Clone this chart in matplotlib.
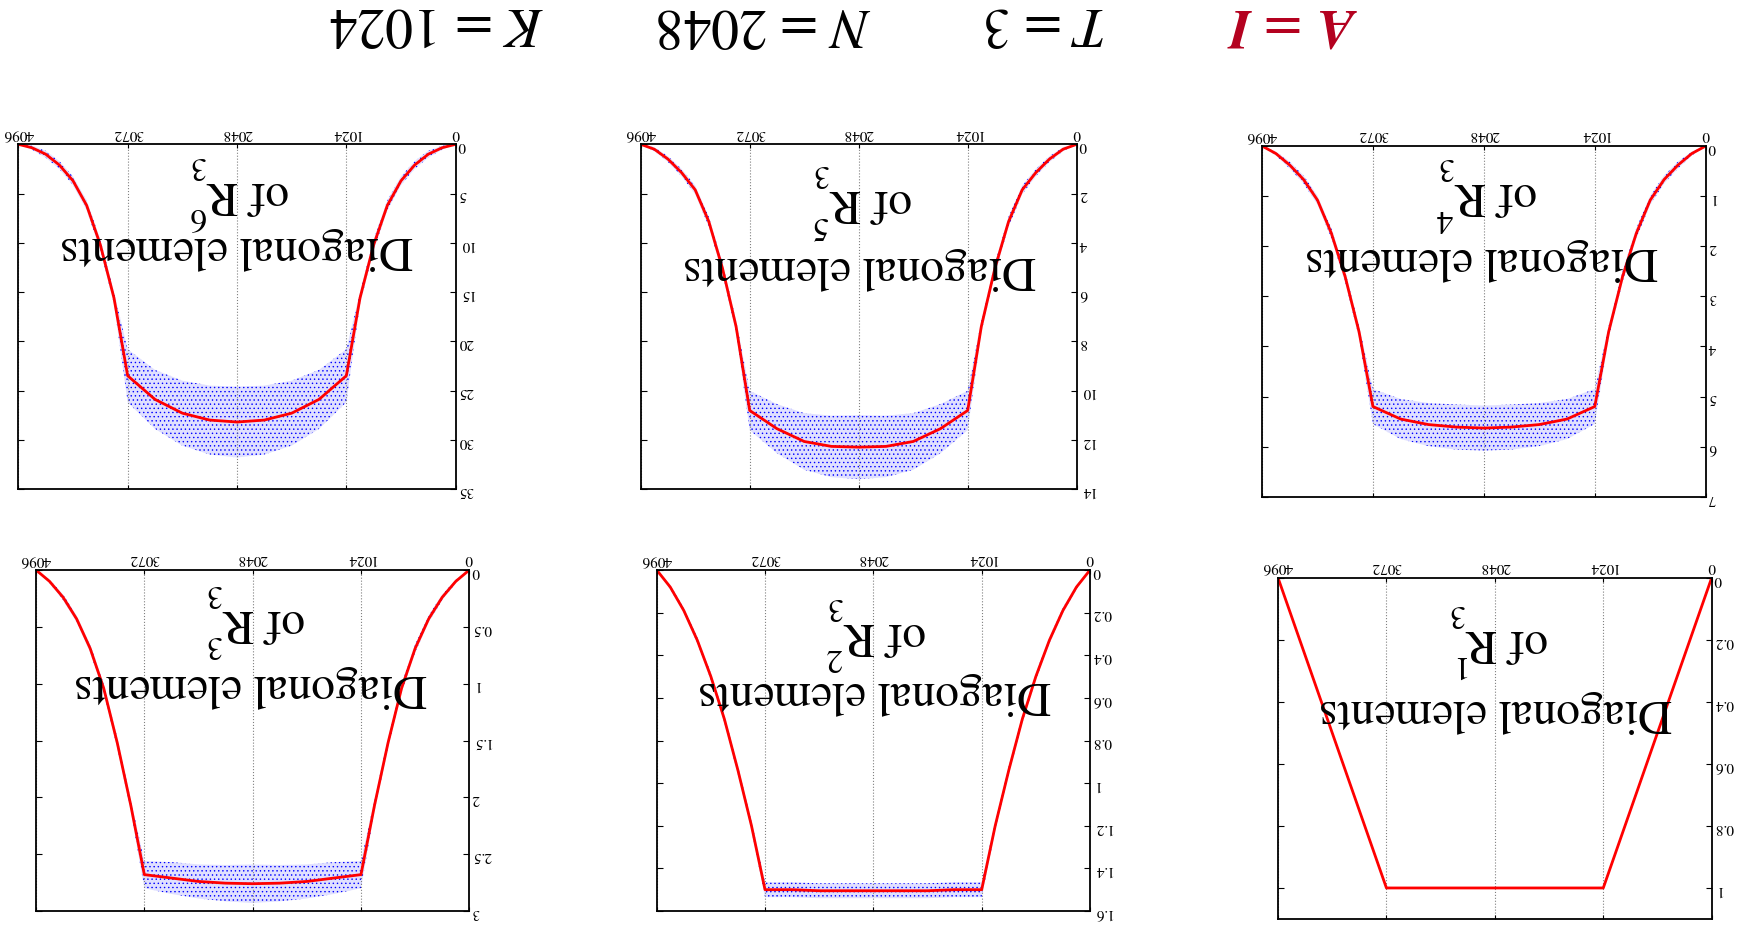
import numpy as np
import matplotlib
matplotlib.use("Agg")
import matplotlib.pyplot as plt
from matplotlib.ticker import FuncFormatter
from matplotlib.transforms import offset_copy

plt.rcParams['font.family'] = 'STIXGeneral'
plt.rcParams['mathtext.fontset'] = 'stix'
plt.rcParams['hatch.linewidth'] = 0.5

# column index along the diagonal
idx = [0, 128, 256, 384, 512, 640, 768, 896, 1024, 1280, 1536, 1792, 2048,
       2304, 2560, 2816, 3072, 3200, 3328, 3456, 3584, 3712, 3840, 3968, 4096]

# mean diagonal of R^k (red) and half-width of the sampled cloud (blue)
diag_r1 = [0, .125, .25, .375, .5, .625, .75, .875, 1, 1, 1, 1, 1,
           1, 1, 1, 1, .875, .75, .625, .5, .375, .25, .125, 0]
spread_r1 = [0, .005, .006, .006, .006, .006, .006, .006, .004, 0, 0, 0, 0,
             0, 0, 0, .004, .006, .006, .006, .006, .006, .006, .005, 0]

diag_r2 = [0, .08, .19, .33, .50, .70, .94, 1.20, 1.50, 1.50, 1.505, 1.505, 1.505,
           1.505, 1.505, 1.50, 1.50, 1.20, .94, .70, .50, .33, .19, .08, 0]
spread_r2 = [0, .01, .012, .014, .016, .018, .02, .022, .035, .035, .035, .035, .035,
             .035, .035, .035, .035, .022, .02, .018, .016, .014, .012, .01, 0]

diag_r3 = [0, .10, .24, .43, .69, 1.04, 1.52, 2.07, 2.68, 2.71, 2.74, 2.755, 2.76,
           2.755, 2.74, 2.71, 2.68, 2.07, 1.52, 1.04, .69, .43, .24, .10, 0]
spread_r3 = [0, .015, .025, .03, .035, .04, .045, .05, .12, .14, .15, .16, .17,
             .16, .15, .14, .12, .05, .045, .04, .035, .03, .025, .015, 0]

diag_r4 = [0, .15, .38, .67, 1.08, 1.74, 2.61, 3.71, 5.20, 5.45, 5.56, 5.61, 5.63,
           5.61, 5.56, 5.45, 5.20, 3.71, 2.61, 1.74, 1.08, .67, .38, .15, 0]
spread_r4 = [0, .04, .07, .08, .09, .1, .11, .12, .35, .4, .43, .45, .45,
             .45, .43, .4, .35, .12, .11, .1, .09, .08, .07, .04, 0]

diag_r5 = [0, .2, .6, 1.15, 1.85, 3.14, 5.03, 7.4, 10.81, 11.55, 12.07, 12.27, 12.3,
           12.27, 12.07, 11.55, 10.81, 7.4, 5.03, 3.14, 1.85, 1.15, .6, .2, 0]
spread_r5 = [0, .08, .12, .15, .18, .2, .22, .25, .8, 1.0, 1.15, 1.25, 1.3,
             1.25, 1.15, 1.0, .8, .25, .22, .2, .18, .15, .12, .08, 0]

diag_r6 = [0, .35, 1.0, 2.1, 3.7, 6.2, 10.2, 15.6, 23.5, 25.9, 27.3, 28.0, 28.2,
           28.0, 27.3, 25.9, 23.5, 15.6, 10.2, 6.2, 3.7, 2.1, 1.0, .35, 0]
spread_r6 = [0, .2, .35, .4, .45, .5, .55, .6, 2.7, 3.0, 3.3, 3.5, 3.6,
             3.5, 3.3, 3.0, 2.7, .6, .55, .5, .45, .4, .35, .2, 0]

y_max = [1.1, 1.6, 3, 7, 14, 35]
y_step = [0.2, 0.2, 0.5, 1, 2, 5]
x_ticks = [0, 1024, 2048, 3072, 4096]

W, H = 1737, 925
# pixel boxes (x0, y0, x1, y1) from the top-left corner, and label anchors
boxes = [(1278, 577.7, 1711.7, 919), (656.7, 570, 1090, 911), (36, 570, 469.3, 911),
         (1262, 146, 1705.7, 496.7), (640.7, 144.3, 1076.7, 489), (18.3, 144.3, 455.7, 489)]
lab1 = [(0.502, 0.642), (0.502, 0.672), (0.496, 0.692),
        (0.495, 0.709), (0.501, 0.674), (0.499, 0.732)]
lab2 = [(0.50, 0.847), (0.498, 0.845), (0.497, 0.883),
        (0.499, 0.894), (0.499, 0.867), (0.497, 0.891)]

diags = [diag_r1, diag_r2, diag_r3, diag_r4, diag_r5, diag_r6]
spreads = [spread_r1, spread_r2, spread_r3, spread_r4, spread_r5, spread_r6]

fig = plt.figure(figsize=(W / 100, H / 100), dpi=100)
upside = dict(rotation=180, rotation_mode='anchor', va='baseline')

for k in range(6):
    x0, y0, x1, y1 = boxes[k]
    ax = fig.add_axes([x0 / W, 1 - y1 / H, (x1 - x0) / W, (y1 - y0) / H])
    d = np.array(diags[k])
    s = np.array(spreads[k])
    ax.fill_between(idx, d - s, d + s, facecolor=(0.45, 0.45, 1.0, 0.22),
                    edgecolor='blue', linewidth=0, hatch='....')
    ax.plot(idx, d, color='red', lw=2)

    # whole panel is drawn turned upside down
    ax.set_xlim(4096, 0)
    ax.set_ylim(y_max[k], 0)
    ax.set_xticks(x_ticks)
    ax.set_yticks(np.arange(0, y_max[k] + 1e-9, y_step[k]))
    ax.yaxis.set_major_formatter(FuncFormatter(lambda v, p: '%g' % round(v, 3)))
    ax.xaxis.grid(True, ls=':', color='gray', lw=0.8)
    ax.tick_params(axis='x', direction='in', top=True, bottom=True, labeltop=True,
                   labelbottom=False, labelrotation=180, labelsize=11, length=3, pad=3)
    ax.tick_params(axis='y', direction='in', left=True, right=True, labelright=True,
                   labelleft=False, labelrotation=180, labelsize=11, length=4, pad=2)
    for sp in ax.spines.values():
        sp.set_linewidth(1.3)

    ax.text(*lab1[k], 'Diagonal elements', transform=ax.transAxes, ha='center',
            fontsize=34, **upside)
    # "of R" with its power above and the block size below, gnuplot style
    px = lab2[k][0] - 29 / (x1 - x0)
    py = lab2[k][1]
    ax.text(px, py, 'of R', transform=ax.transAxes, ha='right', fontsize=34, **upside)
    sup_tr = offset_copy(ax.transAxes, fig=fig, x=-1.5, y=-19, units='points')
    sub_tr = offset_copy(ax.transAxes, fig=fig, x=-1.5, y=18, units='points')
    ax.text(px, py, str(k + 1), transform=sup_tr, ha='left', fontsize=24, **upside)
    ax.text(px, py, '3', transform=sub_tr, ha='left', fontsize=24, **upside)

title_y = 1 - 9 / H
fig.text(1291 / W, title_y, r'$\mathbfit{A}$ = $\mathbfit{I}$', color='#b4001e',
         ha='center', fontsize=40, **upside)
fig.text(1046 / W, title_y, r'$T$ = 3', ha='center', fontsize=40, **upside)
fig.text(764 / W, title_y, r'$N$ = 2048', ha='center', fontsize=40, **upside)
fig.text(437 / W, title_y, r'$K$ = 1024', ha='center', fontsize=40, **upside)

fig.savefig('out.png', dpi=100)
